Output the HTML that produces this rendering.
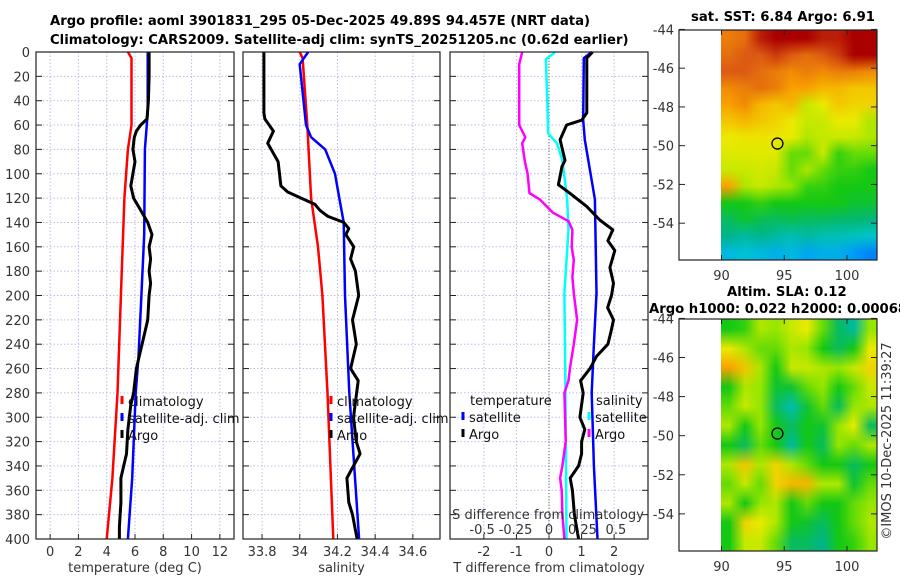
<!DOCTYPE html>
<html><head><meta charset="utf-8">
<style>
body{margin:0;background:#fff;}
svg{display:block;font-family:"DejaVu Sans","Liberation Sans",sans-serif;}
.tk{font-size:13px;fill:#333;}
.tt{font-size:13.2px;font-weight:bold;fill:#000;}
.lg{font-size:13px;fill:#111;}
</style></head>
<body>
<svg id="fig" width="900" height="580" viewBox="0 0 900 580">
<text class="tt" x="50" y="25">Argo profile: aoml 3901831_295 05-Dec-2025 49.89S 94.457E (NRT data)</text>
<text class="tt" x="50" y="44">Climatology: CARS2009. Satellite-adj clim: synTS_20251205.nc (0.62d earlier)</text>
<text class="tt" x="783" y="21" text-anchor="middle">sat. SST: 6.84 Argo: 6.91</text>
<text class="tt" x="727" y="296">Altim. SLA: 0.12</text>
<text class="tt" x="649" y="313">Argo h1000: 0.022 h2000: 0.00068</text>
<text class="tk" transform="translate(891,441) rotate(-90)" text-anchor="middle">©IMOS 10-Dec-2025 11:39:27</text>
<foreignObject x="721" y="30" width="156" height="230"><canvas id="c1" width="10" height="14" style="width:156px;height:230px;display:block"></canvas></foreignObject>
<foreignObject x="721" y="319" width="156" height="232"><canvas id="c2" width="10" height="12" style="width:156px;height:232px;display:block"></canvas></foreignObject>
</svg>
<script>
// ---------- data ----------
const depthTicks=[0,20,40,60,80,100,120,140,160,180,200,220,240,260,280,300,320,340,360,380,400];
const tempTicks=[0,2,4,6,8,10,12];
const salTicks=[33.8,34,34.2,34.4,34.6];
const tdTicks=[-2,-1,0,1,2];
const sdTicks=[-0.5,-0.25,0,0.25,0.5];
const sdTickLabels=["-0.5","-0.25","0","0.25","0.5"];

const argoTDepth=[0,5,10,20,40,55,60,65,70,80,90,100,110,120,130,140,150,160,170,180,190,200,220,240,250,260,270,280,290,300,310,320,330,340,350,370,390,400];
const argoT=[7.0,7.0,7.0,7.0,6.95,6.85,6.4,6.1,5.95,5.85,6.0,5.85,5.7,5.9,6.4,6.9,7.2,7.0,7.1,7.0,7.1,7.0,6.9,6.5,6.3,6.1,6.0,5.9,5.7,5.6,5.5,5.45,5.4,5.2,5.0,5.0,4.9,4.9];
const climTDepth=[0,5,60,80,120,200,280,350,400];
const climT=[5.5,5.75,5.75,5.5,5.25,5.0,4.76,4.4,4.0];
const satTDepth=[0,50,80,150,200,250,280,350,400];
const satT=[6.9,6.9,6.7,6.65,6.45,6.25,6.05,5.8,5.5];

const argoSDepth=[0,50,55,65,75,90,110,115,120,125,130,135,140,145,150,160,170,180,200,220,240,260,270,300,320,330,340,350,370,380,400];
const argoS=[33.81,33.81,33.815,33.86,33.83,33.885,33.9,33.936,34.007,34.08,34.107,34.15,34.233,34.26,34.245,34.286,34.27,34.295,34.313,34.28,34.3,34.27,34.31,34.285,34.3,34.32,34.285,34.25,34.26,34.28,34.304];
const climSDepth=[0,5,60,120,160,200,280,400];
const climS=[34.0,34.015,34.04,34.06,34.097,34.12,34.147,34.178];
const satSDepth=[0,10,40,60,70,80,100,120,140,200,280,400];
const satS=[34.045,34.0,34.02,34.033,34.06,34.135,34.187,34.21,34.233,34.24,34.263,34.315];

const argoTdDepth=[0,5,50,56,60,72,89,94,109,116,127,138,146,155,163,177,190,200,210,220,230,240,250,260,270,280,300,310,320,330,340,350,360,380,400];
const argoTd=[1.34,1.16,1.16,1.0,0.54,0.34,0.49,0.4,0.29,0.64,1.16,1.56,1.96,1.81,2.02,1.87,1.98,1.92,1.8,1.98,1.9,1.81,1.46,1.26,0.97,1.05,0.95,1.1,1.0,1.0,0.91,0.65,0.72,0.78,0.91];
const satTdDepth=[0,5,56,72,121,198,240,280,340,400];
const satTd=[1.31,1.07,1.05,1.1,1.41,1.46,1.38,1.31,1.38,1.49];
const argoSdDepth=[0,10,60,65,70,75,90,100,116,121,132,139,146,160,171,185,198,220,240,260,270,280,300,320,340,350,360,380,400];
const argoSd=[-0.2,-0.223,-0.223,-0.2,-0.177,-0.2,-0.18,-0.16,-0.146,-0.07,0.03,0.146,0.175,0.17,0.185,0.175,0.185,0.21,0.185,0.156,0.146,0.115,0.12,0.125,0.1,0.083,0.095,0.1,0.115];
const satSdDepth=[0,6,67,75,89,121,146,198,280,400];
const satSd=[0.046,-0.023,-0.005,0.06,0.1,0.136,0.146,0.115,0.123,0.131];

const latTicks=[-44,-46,-48,-50,-52,-54];
const lonTicks=[90,95,100];
const argoLon=94.457, argoLat=-49.89;
const sstGrid=[
[0.8,0.82,0.95,1,1,1,0.95,0.95,1,1],
[0.82,0.85,0.85,0.9,0.85,0.82,0.85,0.9,1,1],
[0.85,0.85,0.82,0.8,0.78,0.8,0.78,0.8,0.8,0.78],
[0.78,0.8,0.82,0.8,0.75,0.75,0.72,0.72,0.7,0.7],
[0.75,0.78,0.72,0.7,0.72,0.62,0.65,0.7,0.68,0.68],
[0.7,0.72,0.7,0.68,0.65,0.62,0.62,0.65,0.65,0.6],
[0.65,0.66,0.66,0.66,0.65,0.6,0.62,0.62,0.62,0.6],
[0.64,0.64,0.64,0.64,0.55,0.55,0.62,0.52,0.55,0.55],
[0.62,0.62,0.63,0.62,0.55,0.6,0.55,0.52,0.52,0.5],
[0.75,0.6,0.62,0.6,0.58,0.52,0.52,0.5,0.5,0.5],
[0.5,0.5,0.52,0.5,0.5,0.5,0.5,0.5,0.48,0.48],
[0.45,0.48,0.46,0.45,0.46,0.45,0.45,0.44,0.44,0.43],
[0.42,0.4,0.42,0.4,0.38,0.4,0.38,0.38,0.37,0.36],
[0.32,0.34,0.32,0.3,0.32,0.28,0.3,0.3,0.26,0.22]];
const slaGrid=[
[0.5,0.52,0.6,0.58,0.62,0.65,0.55,0.45,0.4,0.58],
[0.65,0.6,0.55,0.55,0.6,0.58,0.5,0.45,0.5,0.65],
[0.75,0.7,0.6,0.5,0.62,0.62,0.6,0.58,0.62,0.68],
[0.5,0.6,0.58,0.48,0.48,0.55,0.58,0.5,0.55,0.62],
[0.55,0.62,0.58,0.45,0.38,0.48,0.55,0.45,0.58,0.6],
[0.6,0.5,0.58,0.5,0.45,0.5,0.48,0.58,0.65,0.45],
[0.5,0.45,0.55,0.5,0.4,0.5,0.45,0.58,0.55,0.6],
[0.6,0.7,0.6,0.68,0.6,0.55,0.5,0.5,0.45,0.5],
[0.55,0.62,0.55,0.68,0.72,0.72,0.6,0.6,0.48,0.55],
[0.6,0.5,0.58,0.6,0.5,0.55,0.5,0.5,0.55,0.58],
[0.5,0.68,0.65,0.6,0.5,0.48,0.45,0.5,0.55,0.6],
[0.5,0.62,0.62,0.55,0.45,0.45,0.42,0.5,0.52,0.58]];

// ---------- drawing ----------
const NS='http://www.w3.org/2000/svg';
const svg=document.getElementById('fig');
function mk(tag,attrs,parent){const e=document.createElementNS(NS,tag);for(const k in attrs)e.setAttribute(k,attrs[k]);(parent||svg).appendChild(e);return e;}
const Y0=52,Y1=539;
const yD=d=>Y0+(Y1-Y0)*d/400;

function panel(name,x0,x1,dmin,dmax,ticks,labels,xlabel,showY){
  const sx=v=>x0+(x1-x0)*(v-dmin)/(dmax-dmin);
  const g=mk('g',{});
  
  
  ticks.forEach(t=>{mk('line',{x1:sx(t),x2:sx(t),y1:Y0,y2:Y1,stroke:'#b8bfe6','stroke-width':1,'stroke-dasharray':'1.5 2'},g);
    mk('line',{x1:sx(t),x2:sx(t),y1:Y1,y2:Y1-5,stroke:'#222'},g);});
  depthTicks.forEach(d=>{mk('line',{x1:x0,x2:x1,y1:yD(d),y2:yD(d),stroke:'#b8bfe6','stroke-width':1,'stroke-dasharray':'1.5 2'},g);
    mk('line',{x1:x0,x2:x0+6,y1:yD(d),y2:yD(d),stroke:'#222'},g);
    mk('line',{x1:x1,x2:x1-6,y1:yD(d),y2:yD(d),stroke:'#222'},g);
    if(showY){const t=mk('text',{x:x0-6,y:yD(d)+5,'text-anchor':'end',class:'tk'},g);t.textContent=d;}});
  if(labels){ticks.forEach((t,i)=>{const e=mk('text',{x:sx(t),y:Y1+17,'text-anchor':'middle',class:'tk'},g);e.textContent=labels[i];});}
  const xl=mk('text',{x:(x0+x1)/2,y:Y1+33,'text-anchor':'middle',class:'tk'},g);xl.textContent=xlabel;
  return {g,sx};
}
function series(p,sx,depths,vals,color,w,name){
  const pts=depths.map((d,i)=>sx(vals[i]).toFixed(1)+','+yD(d).toFixed(1)).join(' ');
  const l=mk('polyline',{points:pts,fill:'none',stroke:color,'stroke-width':w,'stroke-linejoin':'round'},p);
  
  
}
function frame(p,x0,x1){mk('rect',{x:x0,y:Y0,width:x1-x0,height:Y1-Y0,fill:'none',stroke:'#222','stroke-width':1.2},p);}
function legend(p,x,y,color,label,name){
  mk('line',{x1:x,x2:x,y1:y-10,y2:y-2,stroke:color,'stroke-width':3},p);
  const t=mk('text',{x:x+6,y:y,class:'lg'},p);t.textContent=label;
  
  
}

// panel 1 temperature
const P1=panel('temperature-panel',36,234,-1,13,tempTicks,tempTicks.map(String),'temperature (deg C)',true);
series(P1.g,P1.sx,climTDepth,climT,'#f00',2.5,'temp-climatology-line');
series(P1.g,P1.sx,satTDepth,satT,'#00f',2.5,'temp-satellite-line');
series(P1.g,P1.sx,argoTDepth,argoT,'#000',3,'temp-argo-line');
frame(P1.g,36,234);
legend(P1.g,122,406,'#f00','climatology','legend-climatology');
legend(P1.g,122,423,'#00f','satellite-adj. clim','legend-satellite');
legend(P1.g,122,440,'#000','Argo','legend-argo');

// panel 2 salinity
const P2=panel('salinity-panel',243,440,33.699,34.744,salTicks,salTicks.map(String),'salinity',false);
series(P2.g,P2.sx,climSDepth,climS,'#f00',2.5,'sal-climatology-line');
series(P2.g,P2.sx,satSDepth,satS,'#00f',2.5,'sal-satellite-line');
series(P2.g,P2.sx,argoSDepth,argoS,'#000',3,'sal-argo-line');
frame(P2.g,243,440);
legend(P2.g,331,406,'#f00','climatology','legend-sal-climatology');
legend(P2.g,331,423,'#00f','satellite-adj. clim','legend-sal-satellite');
legend(P2.g,331,440,'#000','Argo','legend-sal-argo');

// panel 3 differences
const P3=panel('difference-panel',450,648,-3.04,3.04,tdTicks,tdTicks.map(String),'T difference from climatology',false);
const sxS=v=>450+198*(v+0.74)/1.48;
mk('line',{x1:549,x2:549,y1:Y0,y2:Y1,stroke:'#665','stroke-width':1,'stroke-dasharray':'1 2'},P3.g);
series(P3.g,sxS,satSdDepth,satSd,'#0ff',2.5,'sal-diff-satellite-line');
series(P3.g,sxS,argoSdDepth,argoSd,'#f0f',2.5,'sal-diff-argo-line');
series(P3.g,P3.sx,satTdDepth,satTd,'#00f',2.5,'temp-diff-satellite-line');
series(P3.g,P3.sx,argoTdDepth,argoTd,'#000',3,'temp-diff-argo-line');
frame(P3.g,450,648);
{const t=mk('text',{x:470,y:405,class:'lg'},P3.g);t.textContent='temperature';
 
 const s=mk('text',{x:596,y:405,class:'lg'},P3.g);s.textContent='salinity';
 }
legend(P3.g,463,422,'#00f','satellite','legend-temp-satellite');
legend(P3.g,463,439,'#000','Argo','legend-temp-argo');
legend(P3.g,589,422,'#0ff','satellite','legend-sal-satellite-diff');
legend(P3.g,589,439,'#f0f','Argo','legend-sal-argo-diff');
{const t=mk('text',{x:548,y:519,'text-anchor':'middle',class:'tk'},P3.g);t.textContent='S difference from climatology';
 
 sdTicks.forEach((v,i)=>{const e=mk('text',{x:sxS(v),y:534,'text-anchor':'middle',class:'tk'},P3.g);e.textContent=sdTickLabels[i];});}

// maps
const cmapPos=[0,0.25,0.35,0.42,0.5,0.58,0.65,0.75,0.85,1];
const cmapCol=[[0,0,200],[0,150,255],[0,200,210],[0,180,140],[20,200,20],[150,230,0],[235,235,0],[250,160,0],[220,90,20],[170,0,0]];
function cmap(v){
  v=Math.max(0,Math.min(1,v));
  for(let i=1;i<cmapPos.length;i++){
    if(v<=cmapPos[i]){const f=(v-cmapPos[i-1])/(cmapPos[i]-cmapPos[i-1]);
      return cmapCol[i].map((c,k)=>Math.round(cmapCol[i-1][k]+f*(c-cmapCol[i-1][k])));}
  }
  return cmapCol[cmapCol.length-1];
}
function fillCanvas(id,grid){
  const cv=document.getElementById(id),ctx=cv.getContext('2d');
  grid.forEach((row,r)=>row.forEach((v,c)=>{const [R,G,B]=cmap(v);ctx.fillStyle=`rgb(${R},${G},${B})`;ctx.fillRect(c,r,1,1);}));
}
fillCanvas('c1',sstGrid);
fillCanvas('c2',slaGrid);
function mapAxes(name,top,bottom){
  const latTop=-44.03,latBot=-55.9;
  const ly=l=>top+(bottom-top)*(l-latTop)/(latBot-latTop);
  const lx=l=>721.5+12.55*(l-90);
  const g=mk('g',{});
  
  
  mk('rect',{x:679,y:top,width:198,height:bottom-top,fill:'none',stroke:'#222','stroke-width':1.2},g);
  latTicks.forEach(l=>{mk('line',{x1:679,x2:685,y1:ly(l),y2:ly(l),stroke:'#222'},g);
    mk('line',{x1:877,x2:871,y1:ly(l),y2:ly(l),stroke:'#222'},g);
    const t=mk('text',{x:674,y:ly(l)+5,'text-anchor':'end',class:'tk'},g);t.textContent=l;});
  lonTicks.forEach(l=>{mk('line',{x1:lx(l),x2:lx(l),y1:bottom,y2:bottom-5,stroke:'#222'},g);
    mk('line',{x1:lx(l),x2:lx(l),y1:top,y2:top+5,stroke:'#222'},g);
    const t=mk('text',{x:lx(l),y:bottom+20,'text-anchor':'middle',class:'tk'},g);t.textContent=l;});
  const c=mk('circle',{cx:lx(argoLon),cy:ly(argoLat),r:5.5,fill:'none',stroke:'#000','stroke-width':1.3},g);
  
  
}
mapAxes('sst-map-axes',30,260);
mapAxes('sla-map-axes',319,551);
</script>
</body></html>
